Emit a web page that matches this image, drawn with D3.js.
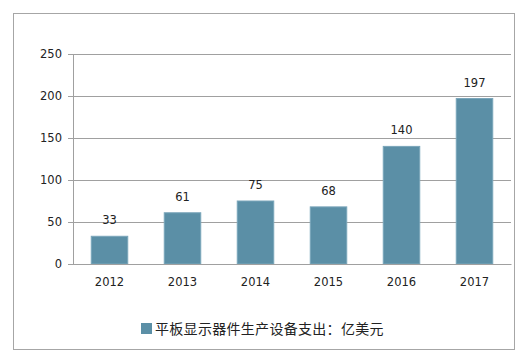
<!DOCTYPE html>
<html><head><meta charset="utf-8">
<script src="https://cdn.jsdelivr.net/npm/d3@7"></script>
<style>body{margin:0;background:#fff;} svg{display:block;}</style>
</head><body>
<svg id="c" width="530" height="356"></svg>
<script>
const categories = ["2012","2013","2014","2015","2016","2017"];
const values = [33, 61, 75, 68, 140, 197];
const yTicks = [0, 50, 100, 150, 200, 250];
const seriesName = "平板显示器件生产设备支出：亿美元";

(function(){
const svg = d3.select("#c");
const font = "'DejaVu Sans', Verdana, sans-serif";
svg.append("rect").attr("x",13.5).attr("y",13.5).attr("width",501).attr("height",336)
  .attr("fill","#fff").attr("stroke","#a6a6a6").attr("stroke-width",1);

const pL = 73, pR = 511, pT = 54, pB = 264;
const x = d3.scaleBand().domain(categories).range([pL, pR]).paddingInner(0.5).paddingOuter(0.25);
const y = d3.scaleLinear().domain([0, 250]).range([pB, pT]);

const yAxis = svg.append("g").attr("transform",`translate(${pL},0)`)
  .call(d3.axisLeft(y).tickValues(yTicks).tickSize(0).tickPadding(11));
yAxis.select(".domain").remove();
yAxis.selectAll(".tick line").attr("stroke","#a0a0a0").attr("x1",-5).attr("x2",pR-pL);
yAxis.selectAll(".tick text").attr("font-family",font).attr("font-size",11.5).attr("fill","#222");

svg.append("line").attr("x1",pL+0.5).attr("x2",pL+0.5).attr("y1",pT).attr("y2",pB)
  .attr("stroke","#a0a0a0");

svg.append("g").selectAll("rect").data(values).join("rect")
  .attr("x",(d,i)=>x(categories[i])).attr("width",x.bandwidth())
  .attr("y",d=>y(d)).attr("height",d=>pB-y(d))
  .attr("fill","#5b8fa6").attr("stroke","#7aa6ba").attr("stroke-width",1);

svg.append("g").selectAll("text").data(values).join("text")
  .attr("x",(d,i)=>x(categories[i])+x.bandwidth()/2).attr("y",d=>y(d)-12)
  .attr("text-anchor","middle").attr("font-family",font).attr("font-size",11.5).attr("fill","#222")
  .text(d=>d);

const xAxis = svg.append("g").attr("transform",`translate(0,${pB})`)
  .call(d3.axisBottom(x).tickSize(0).tickPadding(14));
xAxis.select(".domain").attr("stroke","#a0a0a0");
xAxis.selectAll(".tick text").attr("font-family",font).attr("font-size",11.5).attr("fill","#222");

const lg = svg.append("g");
lg.append("rect").attr("x",141).attr("y",323).attr("width",11).attr("height",11).attr("fill","#5b8fa6");
lg.append("text").attr("x",155).attr("y",334).attr("font-family","'Noto Sans CJK SC', sans-serif")
  .attr("font-size",14).attr("letter-spacing",0.3).attr("fill","#222").text(seriesName);
})();
</script>
</body></html>
